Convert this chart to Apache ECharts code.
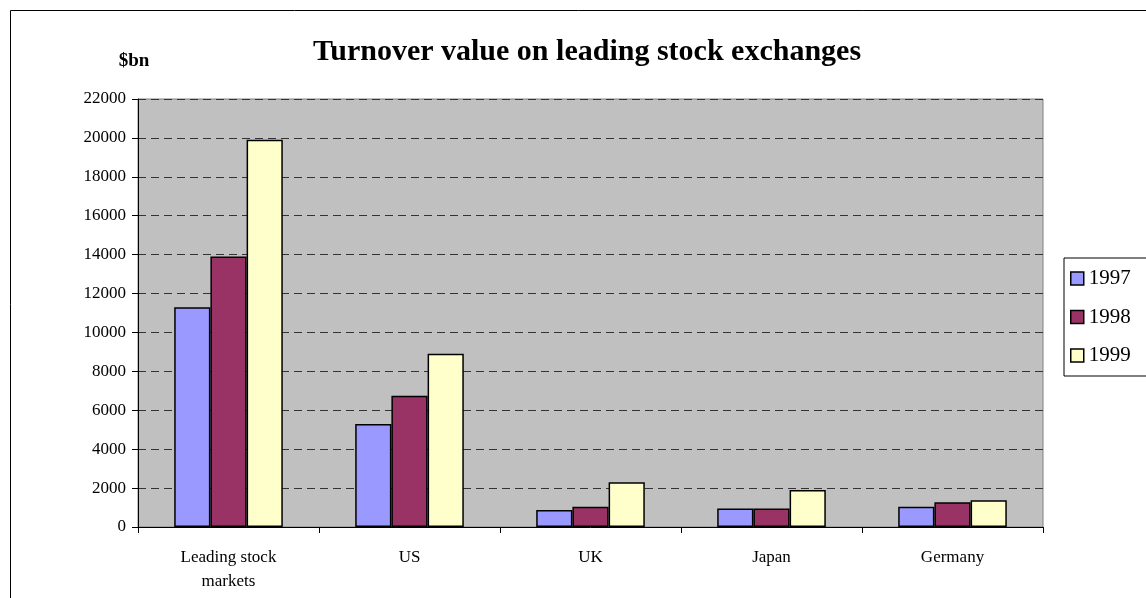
<!DOCTYPE html>
<html>
<head>
<meta charset="utf-8">
<script src="https://cdn.jsdelivr.net/npm/echarts@6/dist/echarts.min.js"></script>
<style>
  html, body { margin: 0; padding: 0; background: #fff; }
  #chart { width: 1146px; height: 598px; }
</style>
</head>
<body>
<div id="chart"></div>
<script>
// categories and values ($bn)
const categories = ["Leading stock\nmarkets", "US", "UK", "Japan", "Germany"];
const years = ["1997", "1998", "1999"];
const data1997 = [11300, 5300, 870, 950, 1040];
const data1998 = [13900, 6750, 1040, 950, 1270];
const data1999 = [19900, 8900, 2300, 1900, 1370];
const colors = ["#9999ff", "#993366", "#ffffcc"];

const font = "Liberation Serif";
const chart = echarts.init(document.getElementById("chart"));

const option = {
  animation: false,
  textStyle: { fontFamily: font },
  title: {
    text: "Turnover value on leading stock exchanges",
    left: 582,
    textAlign: "center",
    top: 32,
    textStyle: { fontFamily: font, fontSize: 30, fontWeight: "bold", color: "#000" }
  },
  legend: {
    orient: "vertical",
    left: 1064,
    top: 258,
    data: years,
    icon: "rect",
    itemWidth: 13,
    itemHeight: 13,
    itemGap: 17.5,
    padding: [10, 20, 10, 6],
    borderColor: "#000",
    borderWidth: 1,
    backgroundColor: "#fff",
    itemStyle: { borderColor: "#000", borderWidth: 1.5 },
    textStyle: { fontFamily: font, fontSize: 21, color: "#000", padding: [0, 0, 0, 0] }
  },
  grid: { left: 138, right: 103, top: 99, bottom: 71, show: true, backgroundColor: "#c0c0c0", borderColor: "#808080", borderWidth: 1 },
  xAxis: {
    type: "category",
    data: categories,
    axisLine: { lineStyle: { color: "#000", width: 1 } },
    axisTick: { show: true, length: 6, lineStyle: { color: "#000" } },
    axisLabel: { fontFamily: font, fontSize: 17, color: "#000", margin: 19, lineHeight: 24 }
  },
  yAxis: {
    type: "value",
    min: 0,
    max: 22000,
    interval: 2000,
    name: "$bn",
    nameLocation: "end",
    nameGap: 28,
    nameTextStyle: { fontFamily: font, fontSize: 19, fontWeight: "bold", color: "#000", align: "center", padding: [0, 0, 0, -8] },
    axisLine: { show: true, lineStyle: { color: "#000", width: 1 } },
    axisTick: { show: true, length: 6, lineStyle: { color: "#000" } },
    axisLabel: { fontFamily: font, fontSize: 17, color: "#000", margin: 12, formatter: v => String(v) },
    splitLine: { lineStyle: { color: "#333", type: [8, 5], width: 1 } }
  },
  series: years.map((y, i) => ({
    name: y,
    type: "bar",
    data: [data1997, data1998, data1999][i],
    barGap: "0%",
    barCategoryGap: "40%",
    itemStyle: { color: colors[i], borderColor: "#000", borderWidth: 1.5 }
  })),
  graphic: [{
    type: "rect",
    shape: { x: 10.5, y: 10.5, width: 1200, height: 700 },
    style: { fill: null, stroke: "#000", lineWidth: 1 },
    silent: true,
    z: -10
  }]
};

chart.setOption(option);
window.addEventListener("resize", function () {
  chart.resize();
});
</script>
</body>
</html>
